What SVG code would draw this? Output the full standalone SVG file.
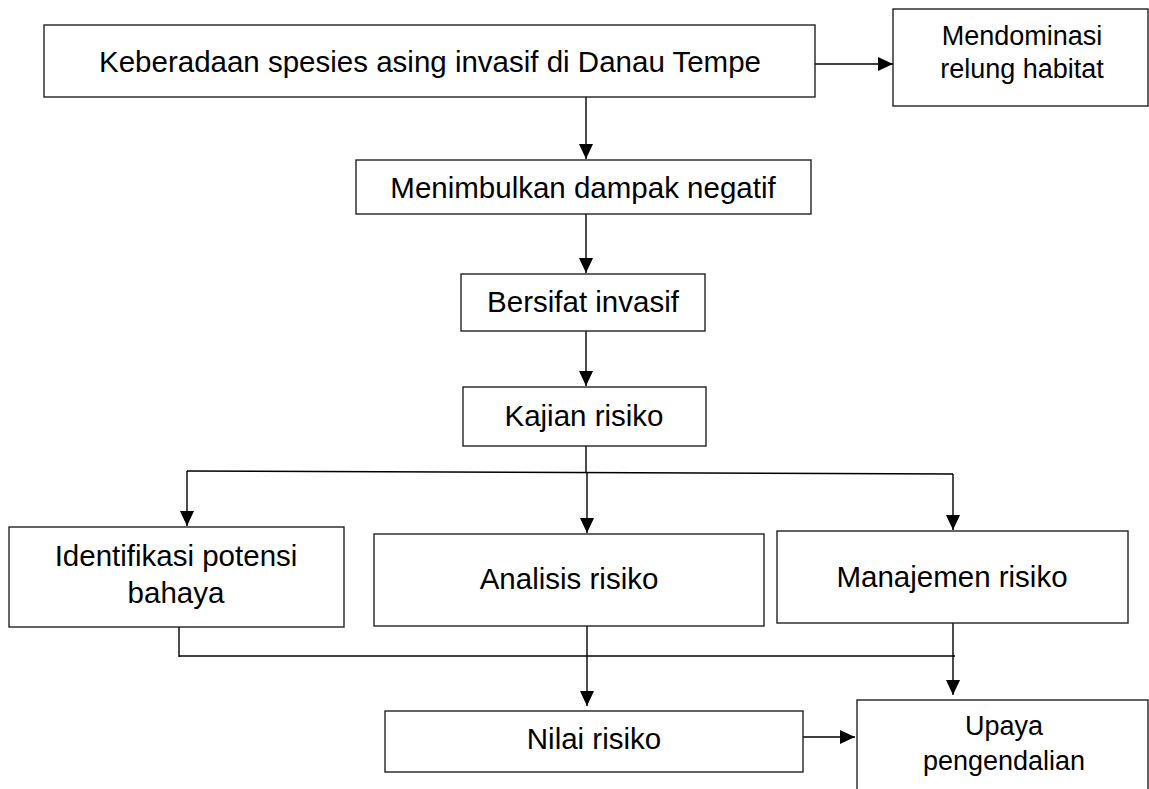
<svg xmlns="http://www.w3.org/2000/svg" width="1149" height="789" viewBox="0 0 1149 789">
<style>
.box{fill:#fff;stroke:#222;stroke-width:1.4}
.t{font-family:"Liberation Sans",Arial,sans-serif;font-size:29.5px;fill:#000;text-anchor:middle}
.s{font-size:27px}
.c{stroke:#000;stroke-width:1.4;fill:none}
</style>
<defs>
<marker id="ah" markerUnits="userSpaceOnUse" markerWidth="16" markerHeight="16" refX="15" refY="7" orient="auto">
<path d="M0,0 L15,7 L0,14 Z" fill="#000"/>
</marker>
</defs>
<rect width="1149" height="789" fill="#fff"/>
<g id="connectors">
<line class="c" x1="815" y1="64" x2="893" y2="64" marker-end="url(#ah)"/>
<line class="c" x1="586" y1="97" x2="586" y2="159" marker-end="url(#ah)"/>
<line class="c" x1="586" y1="214" x2="586" y2="273" marker-end="url(#ah)"/>
<line class="c" x1="586" y1="331" x2="586" y2="386" marker-end="url(#ah)"/>
<line class="c" x1="586" y1="446" x2="586" y2="472"/>
<line class="c" x1="187" y1="471" x2="953" y2="474"/>
<line class="c" x1="187" y1="471" x2="187" y2="526" marker-end="url(#ah)"/>
<line class="c" x1="587" y1="472" x2="587" y2="533" marker-end="url(#ah)"/>
<line class="c" x1="953" y1="474" x2="953" y2="530" marker-end="url(#ah)"/>
<line class="c" x1="179" y1="627" x2="179" y2="657"/>
<line class="c" x1="179" y1="656" x2="955" y2="656"/>
<line class="c" x1="587" y1="626" x2="587" y2="706" marker-end="url(#ah)"/>
<line class="c" x1="953" y1="623" x2="953" y2="695" marker-end="url(#ah)"/>
<line class="c" x1="803" y1="737" x2="855" y2="737" marker-end="url(#ah)"/>
</g>
<g id="keberadaan">
<rect class="box" x="44" y="25" width="771" height="72"/>
<text class="t" x="430" y="72">Keberadaan spesies asing invasif di Danau Tempe</text>
</g>
<g id="mendominasi">
<rect class="box" x="893" y="9" width="255" height="97"/>
<text class="t s" x="1022" y="45">Mendominasi</text>
<text class="t s" x="1022" y="78">relung habitat</text>
</g>
<g id="menimbulkan">
<rect class="box" x="356" y="160" width="455" height="54"/>
<text class="t" x="583" y="198">Menimbulkan dampak negatif</text>
</g>
<g id="bersifat">
<rect class="box" x="461" y="274" width="244" height="57"/>
<text class="t" x="583" y="312">Bersifat invasif</text>
</g>
<g id="kajian">
<rect class="box" x="463" y="387" width="243" height="59"/>
<text class="t" x="584" y="426">Kajian risiko</text>
</g>
<g id="identifikasi">
<rect class="box" x="9" y="527" width="335" height="100"/>
<text class="t" x="176" y="566">Identifikasi potensi</text>
<text class="t" x="176" y="603">bahaya</text>
</g>
<g id="analisis">
<rect class="box" x="374" y="534" width="390" height="92"/>
<text class="t" x="569" y="589">Analisis risiko</text>
</g>
<g id="manajemen">
<rect class="box" x="777" y="531" width="351" height="92"/>
<text class="t" x="952" y="587">Manajemen risiko</text>
</g>
<g id="nilai">
<rect class="box" x="385" y="711" width="418" height="61"/>
<text class="t" x="594" y="749">Nilai risiko</text>
</g>
<g id="upaya">
<rect class="box" x="857" y="700" width="291" height="100"/>
<text class="t s" x="1004" y="735">Upaya</text>
<text class="t s" x="1004" y="770">pengendalian</text>
</g>
</svg>
